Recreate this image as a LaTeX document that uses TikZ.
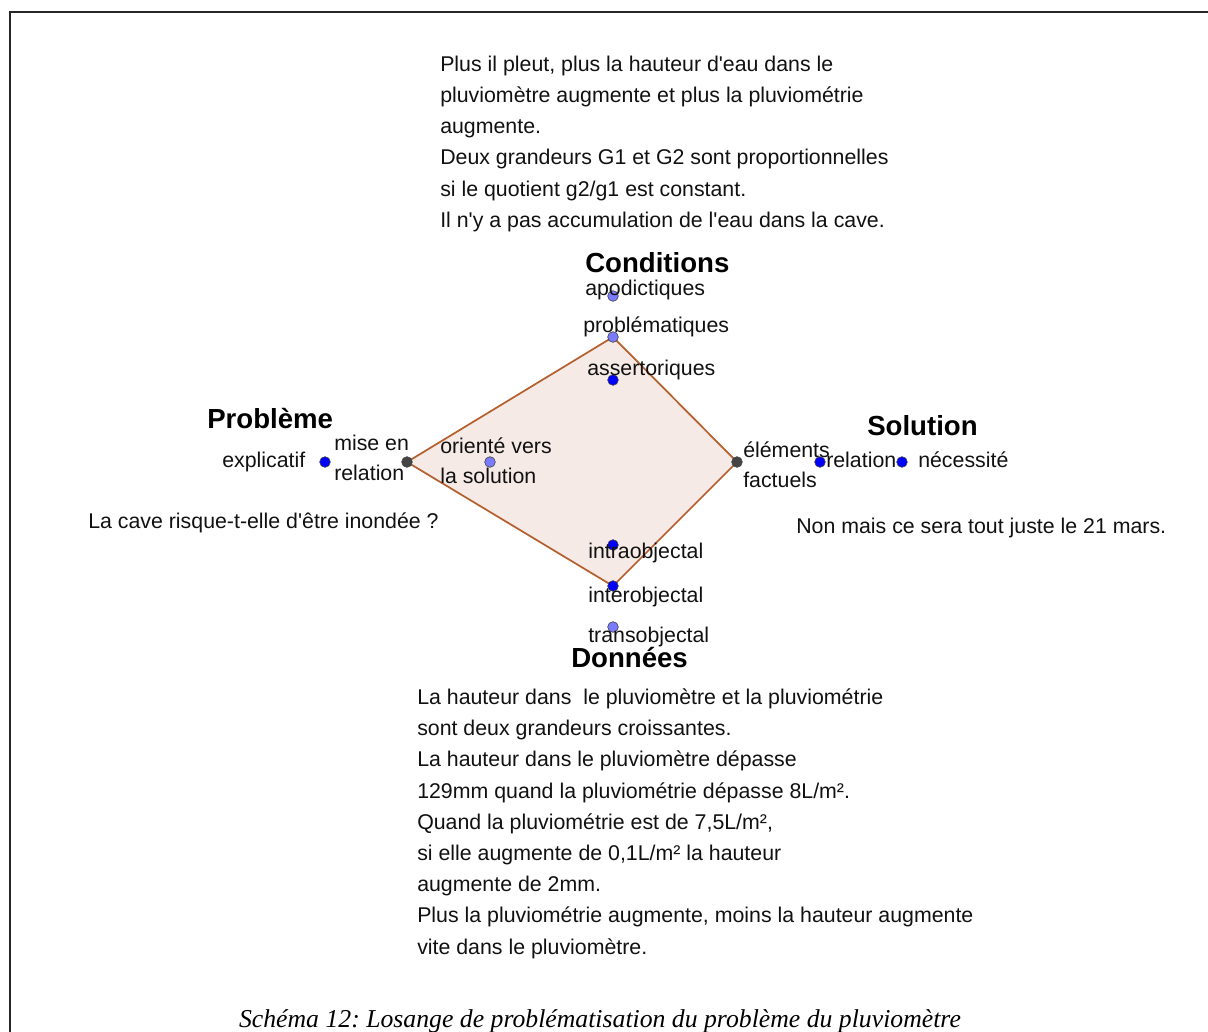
\documentclass[tikz,border=0pt]{standalone}
\usepackage{fontspec}
\setmainfont{Liberation Sans}
\newfontfamily\capfont{Liberation Serif}
\usetikzlibrary{backgrounds}
\definecolor{dotblue}{HTML}{0000FF}
\definecolor{dotlight}{HTML}{7B7BFF}
\definecolor{vertexgray}{HTML}{454545}
\definecolor{losangefill}{HTML}{F5EAE5}
\definecolor{losangeedge}{HTML}{B5602E}
\definecolor{inktext}{HTML}{111111}
\newcommand{\apos}{\textquotesingle}
\frenchspacing
\tikzset{
  lbl/.style={font=\fontsize{16}{23.4}\selectfont, text=inktext,
    anchor=base west, inner sep=0pt},
  textblock/.style={lbl, align=left, anchor=north west},
  heading/.style={font=\fontsize{20.7}{24}\selectfont\bfseries,
    anchor=base west, inner sep=0pt},
  geopt/.style={circle, fill=#1, draw=black!75, line width=0.45pt,
    minimum size=8pt, inner sep=0pt},
  geopt/.default=dotblue,
  losange/.style={fill=losangefill, draw=losangeedge, line width=1.3pt}
}
\begin{document}
\begin{tikzpicture}[x=0.75pt, y=-0.75pt]
    \useasboundingbox (0,0) rectangle (1208,1032);
    % Frame
    \draw[line width=1.5pt, black!85] (10,1040) -- (10,12) -- (1215,12);

    % Conditions
    \node[heading] (cond) at (585,272) {Conditions};
    \node[geopt=dotlight] (apod) at (613,296) {};
    \node[geopt=dotlight] (probl) at (613,337) {};
    \node[geopt] (assert) at (613,380) {};
    \node[lbl] (apodtxt) at (585,295) {apodictiques};
    \node[lbl] (probltxt) at (583,332) {problématiques};
    \node[lbl] (asserttxt) at (587,375) {assertoriques};

    % Donnees
    \node[geopt] (intra) at (613,545) {};
    \node[geopt] (inter) at (613,586) {};
    \node[geopt=dotlight] (trans) at (613,627) {};
    \node[lbl] (intratxt) at (588,558) {intraobjectal};
    \node[lbl] (intertxt) at (588,602) {interobjectal};
    \node[lbl] (transtxt) at (588,642) {transobjectal};
    \node[heading] (donn) at (571,667) {Données};

    % Probleme
    \node[heading] (prob) at (207,428) {Problème};
    \node[geopt] (explic) at (325,462) {};
    \node[geopt=vertexgray] (mise) at (407,462) {};
    \node[geopt=dotlight] (orient) at (490,462) {};
    \node[lbl] (explictxt) at (222,467) {explicatif};
    \node[lbl] (misetxt) at (334,450) {mise en};
    \node[lbl] (reltxt) at (334,480) {relation};
    \node[lbl] (orienttxt) at (440,453) {orienté vers};
    \node[lbl] (soltxt) at (440,483) {la solution};
    \node[lbl] (question) at (88,528) {La cave risque-t-elle d\apos être inondée ?};

    % Solution
    \node[heading] (sol) at (867,435) {Solution};
    \node[geopt=vertexgray] (elem) at (737,462) {};
    \node[geopt] (relat) at (820,462) {};
    \node[geopt] (necess) at (902,462) {};
    \node[lbl] (elemtxt) at (743,457) {éléments};
    \node[lbl] (facttxt) at (743,487) {factuels};
    \node[lbl] (relattxt) at (826,467) {relation};
    \node[lbl] (necesstxt) at (918,467) {nécessité};
    \node[lbl] (answer) at (796,533) {Non mais ce sera tout juste le 21 mars.};

    % Losange
    \begin{scope}[on background layer]
      \draw[losange] (probl.center) -- (elem.center) -- (inter.center)
        -- (mise.center) -- cycle;
    \end{scope}

    % Text blocks
    \node[textblock] (conditions) at (440,55.5) {Plus il pleut, plus la hauteur d\apos eau dans le\\
      pluviomètre augmente et plus la pluviométrie\\
      augmente.\\
      Deux grandeurs G1 et G2 sont proportionnelles\\
      si le quotient g2/g1 est constant.\\
      Il n\apos y a pas accumulation de l\apos eau dans la cave.};
    \node[textblock] (donnees) at (417,688.5) {La hauteur dans \ le pluviomètre et la pluviométrie\\
      sont deux grandeurs croissantes.\\
      La hauteur dans le pluviomètre dépasse\\
      129mm quand la pluviométrie dépasse 8L/m².\\
      Quand la pluviométrie est de 7,5L/m²,\\
      si elle augmente de 0,1L/m² la hauteur\\
      augmente de 2mm.\\
      Plus la pluviométrie augmente, moins la hauteur augmente\\
      vite dans le pluviomètre.};

    % Caption
    \node[font=\capfont\itshape\fontsize{19.3}{22}\selectfont, anchor=base,
      inner sep=0pt] (caption) at (600,1027)
      {Schéma 12: Losange de problématisation du problème du pluviomètre};
\end{tikzpicture}
\end{document}
